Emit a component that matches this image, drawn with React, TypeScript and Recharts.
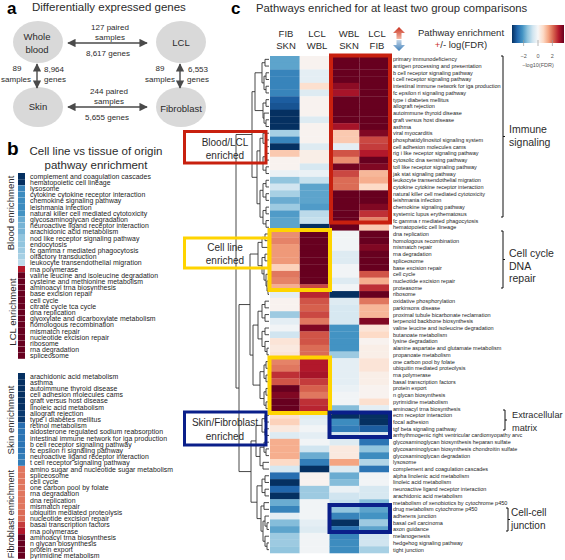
import React from 'react';
import { BarChart, Bar, Cell, XAxis, YAxis } from 'recharts';

const FONT = '"Liberation Sans", Arial, sans-serif';
const INK = '#2b2b2b';

const pathways = [
  'primary immunodeficiency', 'antigen processing and presentation', 'b cell receptor signaling pathway', 't cell receptor signaling pathway',
  'intestinal immune network for iga production', 'fc epsilon ri signaling pathway', 'type i diabetes mellitus', 'allograft rejection',
  'autoimmune thyroid disease', 'graft versus host disease', 'asthma', 'viral myocarditis',
  'phosphatidylinositol signaling system', 'cell adhesion molecules cams', 'rig i like receptor signaling pathway', 'cytosolic dna sensing pathway',
  'toll like receptor signaling pathway', 'jak stat signaling pathway', 'leukocyte transendothelial migration', 'cytokine cytokine receptor interaction',
  'natural killer cell mediated cytotoxicity', 'leishmania infection', 'chemokine signaling pathway', 'systemic lupus erythematosus',
  'fc gamma r mediated phagocytosis', 'hematopoietic cell lineage', 'dna replication', 'homologous recombination',
  'mismatch repair', 'rna degradation', 'spliceosome', 'base excision repair',
  'cell cycle', 'nucleotide excision repair', 'proteasome', 'ribosome',
  'oxidative phosphorylation', 'parkinsons disease', 'proximal tubule bicarbonate reclamation', 'terpenoid backbone biosynthesis',
  'valine leucine and isoleucine degradation', 'butanoate metabolism', 'lysine degradation', 'alanine aspartate and glutamate metabolism',
  'propanoate metabolism', 'one carbon pool by folate', 'ubiquitin mediated proteolysis', 'rna polymerase',
  'basal transcription factors', 'protein export', 'n glycan biosynthesis', 'pyrimidine metabolism',
  'aminoacyl trna biosynthesis', 'ecm receptor interaction', 'focal adhesion', 'tgf beta signaling pathway',
  'arrhythmogenic right ventricular cardiomyopathy arvc', 'glycosaminoglycan biosynthesis heparan sulfate', 'glycosaminoglycan biosynthesis chondroitin sulfate', 'glycosaminoglycan degradation',
  'lysosome', 'complement and coagulation cascades', 'alpha linolenic acid metabolism', 'linoleic acid metabolism',
  'neuroactive ligand receptor interaction', 'arachidonic acid metabolism', 'metabolism of xenobiotics by cytochrome p450', 'drug metabolism cytochrome p450',
  'adherens junction', 'basal cell carcinoma', 'axon guidance', 'melanogenesis',
  'hedgehog signaling pathway', 'tight junction',
];

const fibSkn = [
  -1.6, -1.6, -2, -2, -2, -2, -2.5, -2.6, -3, -3, -3, -1, -2, -3, 0.8, 0.1, 0.1, -0.2, -1.2, -0.6, -1, -1.5, -1.1, -1.7, -1.6, -1.6,
  1.4, 1.5, 1.3, 1.3, 1.3, 0.7, 1.6, 1.5, 1.1, -0.3,
  0.1, 0.1, -1.1, -0.3, -0.1, -0.6, 0.4, 0.3, 0.4, 1.5, 1.6, 2.2, 1.9, 3, 2.8, 3, 3,
  0.5, 0.7, 0.3, -0.4, 1.1, 1.1, 1.1, 0.6, -0.5, -2.3, -3, -2.4, -3, -1.5, -2, -0.3, -1.3, -1.6, -1.1, -1.1, -1.2,
];
const lclWbl = [
  0.1, 0.1, -0.3, -0.3, 0.5, -0.4, 0.1, 0.1, 0.1, -0.4, 0.1, 0.1, 0.1, -0.4, 0.2, 0.2, -0.5, -0.2, -0.7, -1.6, -1.6, -1.6, -1.7, -0.8, -0.7, -3,
  3, 3, 3, 3, 3, 3, 3, 3, 2, 2.3,
  1.9, 1.8, 2, 1.6, 2.8, 1.9, 1.9, 1.7, 1.7, 2.4, 2.4, 2.5, 2.1, 1.8, 1.6, 2.2, 2.3,
  -0.4, -0.3, -0.1, -0.3, -0.1, -0.6, -1.5, -2.1, -3, 0.1, 0.1, -1.1, -1.1, -0.1, -0.1, -0.1, -0.3, -0.4, -0.1, -0.1, -0.1,
];
const wblSkn = [
  3, 3, 3, 3, 2.7, 2.5, 3, 3, 3, 3, 2.5, 0.8, 0.8, -0.3, 1.9, 1.4, 2.9, 2, 1.7, 1.7, 3, 3, 3, 3, 3, 3,
  -0.1, -0.1, -0.1, -0.4, -0.4, -0.1, -0.1, -0.4, -0.1, -3,
  -0.4, -0.5, -0.5, -0.5, -1.8, -1.8, -1.8, -1.8, -1.1, -0.3, -0.3, -0.3, -0.3, -0.2, -0.1, -0.1, -1.3,
  -3, -1.9, -2.1, -0.5, -0.4, 0.3, 0.3, 1.2, -0.4, -1.5, -1.3, -0.2, -0.6, -0.7, -1.2, -2, -3, -2.2, -2, -1.9, -1.9,
];
const lclFib = [
  3, 3, 3, 3, 3, 3, 3, 3, 3, 3, 3, 2.8, 2, 2.1, 2.4, 3, 2.8, 1, 1.1, 0.6, 3, 3, 2.8, 2.2, 1.5, 0.8,
  3, 3, 2.8, 3, 3, 3, 1.9, 1.1, 2.2, 3,
  1.6, 1, 1, 2.8, 0.4, 0.6, 0.1, 0.2, 0.2, 0.4, 0.4, 0.2, 0.2, 0.1, 0.1, 0.5, -0.3,
  -3, -3, -2.5, -0.4, -2.2, -1.2, -1.9, -0.9, -2.2, -0.1, -0.1, -0.5, -0.5, -1.3, -1.6, -1.8, -1.1, -1.6, -0.6, -0.6, -1,
];

const bloodLclLabels = [
  'complement and coagulation cascades', 'hematopoietic cell lineage', 'lysosome', 'cytokine cytokine receptor interaction', 'chemokine signaling pathway',
  'leishmania infection', 'natural killer cell mediated cytotoxicity', 'glycosaminoglycan degradation', 'neuroactive ligand receptor interaction', 'arachidonic acid metabolism',
  'nod like receptor signaling pathway', 'endocytosis', 'fc gamma r mediated phagocytosis', 'olfactory transduction', 'leukocyte transendothelial migration',
  'rna polymerase', 'valine leucine and isoleucine degradation', 'cysteine and methionine metabolism', 'aminoacyl trna biosynthesis', 'base excision repair',
  'cell cycle', 'citrate cycle tca cycle', 'dna replication', 'glyoxylate and dicarboxylate metabolism', 'homologous recombination',
  'mismatch repair', 'nucleotide excision repair', 'ribosome', 'rna degradation', 'spliceosome',
];
const bloodLclValues = [-3, -3, -2, -1.9, -1.9, -1.9, -1.8, -1.5, -1.4, -1.4, -1.2, -1.2, -1.1, -1, -0.8, 2.4, 3, 3, 3, 3, 3, 3, 3, 3, 3, 3, 3, 3, 3, 3];

const skinFibLabels = [
  'arachidonic acid metabolism', 'asthma', 'autoimmune thyroid disease', 'cell adhesion molecules cams', 'graft versus host disease',
  'linoleic acid metabolism', 'allograft rejection', 'type i diabetes mellitus', 'retinol metabolism', 'aldosterone regulated sodium reabsorption',
  'intestinal immune network for iga production', 'b cell receptor signaling pathway', 'fc epsilon ri signaling pathway', 'neuroactive ligand receptor interaction', 't cell receptor signaling pathway',
  'amino sugar and nucleotide sugar metabolism', 'spliceosome', 'cell cycle', 'one carbon pool by folate', 'rna degradation',
  'dna replication', 'mismatch repair', 'ubiquitin mediated proteolysis', 'nucleotide excision repair', 'basal transcription factors',
  'rna polymerase', 'aminoacyl trna biosynthesis', 'n glycan biosynthesis', 'protein export', 'pyrimidine metabolism',
];
const skinFibValues = [-3, -3, -3, -3, -3, -3, -2.9, -2.9, -2.3, -2.2, -2.2, -2.2, -2.2, -2.1, -2.1, 1.6, 1.6, 1.6, 1.6, 1.6, 1.6, 1.6, 1.7, 1.7, 2.1, 2.4, 3, 3, 3, 3];

const columnHeads = [['FIB', 'SKN'], ['LCL', 'WBL'], ['WBL', 'SKN'], ['LCL', 'FIB']];
const legendTicks = [-2, 0, 2];

const ramp = ['#053061', '#2166ac', '#4393c3', '#92c5de', '#d1e5f0', '#f7f7f7', '#fddbc7', '#f4a582', '#d6604d', '#b2182b', '#67001f'];

const hex = (c: string) => [1, 3, 5].map((i) => parseInt(c.slice(i, i + 2), 16));

// value in -3..3 onto the red/blue ramp
const colorOf = (v: number) => {
  const t = ((Math.max(-3, Math.min(3, v)) + 3) / 6) * (ramp.length - 1);
  const i = Math.min(Math.floor(t), ramp.length - 2);
  const a = hex(ramp[i]);
  const b = hex(ramp[i + 1]);
  const f = t - i;
  return `rgb(${a.map((x, k) => Math.round(x + (b[k] - x) * f)).join(',')})`;
};

const heatColumns = [fibSkn, lclWbl, wblSkn, lclFib];
const heatRows = pathways.map((pathway) => ({ pathway, c0: 1, c1: 1, c2: 1, c3: 1 }));
const stripRows = (labels: string[]) => labels.map((pathway) => ({ pathway, unit: 1 }));

const HEAT_TOP = 56;
const HEAT_H = 497;
const ROW_H = HEAT_H / pathways.length;

// plain text tick, the default one wraps long names
const PathwayTick = ({ x, y, payload, size, spacing }: any) => (
  <text x={x} y={y} dy={size * 0.36} fontSize={size} letterSpacing={spacing} fill="#222" fontFamily={FONT}>
    {payload.value}
  </text>
);

type Node = number | { x: number; l: Node; r: Node };
const n = (x: number, l: Node, r: Node): Node => ({ x, l, r });

const dendrogram = n(236,
  n(252,
    n(255,
      n(262, n(265, 0, 1), n(264, n(266, 2, 3), n(266, 4, 5))),
      n(263, n(266, 6, 7), n(264, 8, n(266, 9, 10)))),
    n(257,
      n(260, n(263, 11, n(266, 12, 13)), n(263, n(266, 14, 15), n(266, 16, 17))),
      n(260, n(263, n(266, 18, 19), n(266, 20, 21)), n(263, n(266, 22, 23), n(266, 24, 25))))),
  n(239,
    n(250,
      n(258,
        n(262, n(265, 26, 27), 28),
        n(262, n(265, 29, 30), n(264, 31, n(266, 32, n(267, 33, n(268, 34, 35)))))),
      n(253,
        n(258,
          n(262, n(265, 36, 37), n(265, 38, 39)),
          n(262, n(265, 40, 41), n(265, 42, n(267, 43, 44)))),
        n(260,
          n(264, n(266, 45, 46), n(266, 47, 48)),
          n(264, n(266, 49, 50), n(266, 51, 52))))),
    n(251,
      n(256,
        n(262, n(265, 53, 54), n(265, 55, 56)),
        n(260, n(264, 57, n(266, 58, 59)), n(263, 60, 61))),
      n(257,
        n(262, n(265, 62, 63), n(265, 64, 65)),
        n(261, n(264, 66, 67), n(263, n(265, 68, n(267, 69, 70)), n(265, 71, n(267, 72, 73))))))));

const Dendrogram = () => {
  const lines: React.ReactNode[] = [];
  const walk = (node: Node): [number, number] => {
    if (typeof node === 'number') return [269, HEAT_TOP + (node + 0.5) * ROW_H];
    const [lx, ly] = walk(node.l);
    const [rx, ry] = walk(node.r);
    lines.push(
      <path key={lines.length} d={`M${lx} ${ly}H${node.x}V${ry}H${rx}`} fill="none" stroke="#333" strokeWidth={0.9} />
    );
    return [node.x, (ly + ry) / 2];
  };
  walk(dendrogram);
  return <g>{lines}</g>;
};

const DoubleArrow = ({ x1, y1, x2, y2 }: { x1: number; y1: number; x2: number; y2: number }) => (
  <line x1={x1} y1={y1} x2={x2} y2={y2} stroke="#4a4a4a" strokeWidth={1.4} markerStart="url(#head)" markerEnd="url(#head)" />
);

const Bracket = ({ x, y1, y2 }: { x: number; y1: number; y2: number }) => (
  <path d={`M${x - 2} ${y1}H${x}V${y2}H${x - 2}M${x} ${(y1 + y2) / 2}h2`} fill="none" stroke="#111" strokeWidth={1} />
);

const T = ({ x, y, s = 8, a = 'middle', fill = INK, children, ...rest }: any) => (
  <text x={x} y={y} fontSize={s} textAnchor={a} fill={fill} fontFamily={FONT} {...rest}>
    {children}
  </text>
);

const Box = ({ x1, y1, x2, y2, color, w }: { x1: number; y1: number; x2: number; y2: number; color: string; w: number }) => (
  <rect x={x1} y={y1} width={x2 - x1} height={y2 - y1} fill="none" stroke={color} strokeWidth={w} />
);

const Strip = ({ top, labels, values }: { top: number; labels: string[]; values: number[] }) => (
  <div style={{ position: 'absolute', left: 0, top }}>
    <BarChart
      width={190}
      height={186}
      layout="vertical"
      data={stripRows(labels)}
      barCategoryGap={0}
      margin={{ top: 0, right: 0, bottom: 0, left: 18 }}
    >
      <XAxis type="number" hide domain={[0, 1]} />
      <YAxis
        type="category"
        dataKey="pathway"
        orientation="right"
        width={165}
        interval={0}
        axisLine={false}
        tickLine={false}
        tickSize={0}
        tickMargin={5}
        tick={<PathwayTick size={6.9} spacing={0.05} />}
      />
      <Bar dataKey="unit" isAnimationActive={false}>
        {values.map((v, i) => (
          <Cell key={i} fill={colorOf(v)} />
        ))}
      </Bar>
    </BarChart>
  </div>
);

export default function App() {
  return (
    <div style={{ position: 'absolute', left: 0, top: 0, width: 565, height: 560, background: '#fff', overflow: 'hidden' }}>
      <Strip top={173} labels={bloodLclLabels} values={bloodLclValues} />
      <Strip top={373} labels={skinFibLabels} values={skinFibValues} />

      <div style={{ position: 'absolute', left: 0, top: 0 }}>
        <BarChart
          width={565}
          height={560}
          layout="vertical"
          data={heatRows}
          barCategoryGap={0}
          margin={{ top: HEAT_TOP, right: 0, bottom: 560 - HEAT_TOP - HEAT_H, left: 270 }}
        >
          <XAxis type="number" hide domain={[0, 4]} />
          <YAxis
            type="category"
            dataKey="pathway"
            orientation="right"
            width={176}
            interval={0}
            axisLine={false}
            tickLine={false}
            tickSize={0}
            tickMargin={4}
            tick={<PathwayTick size={5.5} spacing={0} />}
          />
          {heatColumns.map((col, c) => (
            <Bar key={c} dataKey={`c${c}`} stackId="heat" isAnimationActive={false}>
              {col.map((v, i) => (
                <Cell key={i} fill={colorOf(v)} />
              ))}
            </Bar>
          ))}
        </BarChart>
      </div>

      <svg width={565} height={560} style={{ position: 'absolute', left: 0, top: 0, pointerEvents: 'none' }}>
        <defs>
          <marker id="head" viewBox="0 0 10 10" refX="9" refY="5" markerWidth="6" markerHeight="6" orient="auto-start-reverse">
            <path d="M0 0L10 5L0 10Z" fill="#4a4a4a" />
          </marker>
          <linearGradient id="bar">
            {ramp.map((c, i) => (
              <stop key={c} offset={i / (ramp.length - 1)} stopColor={c} />
            ))}
          </linearGradient>
          <linearGradient id="up" x1="0" y1="0" x2="0" y2="1">
            <stop offset="0" stopColor="#c9301f" />
            <stop offset="1" stopColor="#f4b8a4" />
          </linearGradient>
          <linearGradient id="down" x1="0" y1="0" x2="0" y2="1">
            <stop offset="0" stopColor="#c3d6e8" />
            <stop offset="1" stopColor="#3f7fb9" />
          </linearGradient>
        </defs>

        {/* panel a */}
        <T x={7} y={14} s={17} a="start" fontWeight="bold" fill="#000">a</T>
        <T x={32} y={11} s={11.5} a="start">Differentially expressed genes</T>
        {[[38, 42, 21], [181, 42, 21], [38, 107, 20], [181, 107, 20]].map(([cx, cy, ry]) => (
          <ellipse key={`${cx}-${cy}`} cx={cx} cy={cy} rx={25} ry={ry} fill="#d9d9d9" />
        ))}
        <T x={37} y={40} s={9.5}>Whole</T>
        <T x={37} y={53} s={9.5}>blood</T>
        <T x={181} y={46} s={9.5}>LCL</T>
        <T x={38} y={110} s={9.5}>Skin</T>
        <T x={181} y={112} s={9.5}>Fibroblast</T>
        <DoubleArrow x1={68} y1={43} x2={147} y2={43} />
        <DoubleArrow x1={68} y1={107} x2={147} y2={107} />
        <DoubleArrow x1={37} y1={64} x2={37} y2={88} />
        <DoubleArrow x1={180} y1={64} x2={180} y2={88} />
        <T x={110} y={30}>127 paired</T>
        <T x={110} y={40}>samples</T>
        <T x={108} y={56}>8,617  genes</T>
        <T x={109} y={94}>244 paired</T>
        <T x={109} y={104}>samples</T>
        <T x={107} y={120}>5,655  genes</T>
        <T x={17} y={71}>89</T>
        <T x={16} y={82}>samples</T>
        <T x={54} y={72}>8,964</T>
        <T x={55} y={82}>genes</T>
        <T x={160} y={71}>89</T>
        <T x={160} y={82}>samples</T>
        <T x={198} y={72}>6,553</T>
        <T x={198} y={82}>genes</T>

        {/* panel b */}
        <T x={7} y={155} s={19} a="start" fontWeight="bold" fill="#000">b</T>
        <T x={96} y={155} s={11.5}>Cell line vs tissue of origin</T>
        <T x={96} y={169} s={11.5}>pathway enrichment</T>
        <T x={0} y={0} s={9.6} transform="translate(14 213) rotate(-90)">Blood enrichment</T>
        <T x={0} y={0} s={9.6} transform="translate(16 312) rotate(-90)">LCL enrichment</T>
        <T x={0} y={0} s={9.6} transform="translate(14 420) rotate(-90)">Skin enrichment</T>
        <T x={0} y={0} s={9.2} transform="translate(14 514) rotate(-90)">Fibroblast enrichment</T>

        {/* panel c header */}
        <T x={231} y={14} s={17} a="start" fontWeight="bold" fill="#000">c</T>
        <T x={256} y={12} s={11.3} a="start">Pathways enriched for at least two group comparisons</T>
        {columnHeads.map(([a, b], i) => (
          <g key={i}>
            <T x={[286, 317, 349, 377][i]} y={37} s={9.5}>{a}</T>
            <T x={[286, 317, 349, 377][i]} y={49} s={9.5}>{b}</T>
          </g>
        ))}
        <path d="M399 27l-6 6h3.5v6h5v-6h3.5z" fill="url(#up)" />
        <path d="M399 51l-6-6h3.5v-5h5v5h3.5z" fill="url(#down)" />
        <T x={461} y={36} s={9.5}>Pathway enrichment</T>
        <text x={461} y={48} fontSize={9.5} textAnchor="middle" fontFamily={FONT} fill={INK}>
          <tspan fill="#c9301f">+</tspan>/- log(FDR)
        </text>
        <rect x={512} y={25} width={52} height={18} fill="url(#bar)" />
        {legendTicks.map((t) => (
          <g key={t}>
            <line x1={538 + t * 7.2} x2={538 + t * 7.2} y1={40} y2={46} stroke="#999" strokeWidth={0.7} />
            <T x={538 + t * 7.2} y={58} s={5.5} fill="#555">{t === -2 ? '−2' : t}</T>
          </g>
        ))}
        <T x={538} y={67} s={5.5} fill="#555">−log10(FDR)</T>

        <Dendrogram />

        <Box x1={331} y1={55.5} x2={390} y2={222.5} color="#c8200f" w={4} />
        <Box x1={269.5} y1={230} x2={330} y2={290} color="#ffd400" w={4} />
        <Box x1={269.5} y1={357.5} x2={330} y2={413} color="#ffd400" w={4} />
        <Box x1={329.5} y1={412.5} x2={390} y2={437} color="#0a1f8a" w={4} />
        <Box x1={329.5} y1={505} x2={390} y2={532} color="#0a1f8a" w={4} />

        <Box x1={184.5} y1={131.5} x2={266} y2={163} color="#c8200f" w={3} />
        <T x={225} y={146} s={10}>Blood/LCL</T>
        <T x={225} y={159} s={10}>enriched</T>
        <Box x1={184.5} y1={238} x2={269} y2={268} color="#ffd400" w={3} />
        <T x={225} y={251} s={10}>Cell line</T>
        <T x={225} y={264} s={10}>enriched</T>
        <Box x1={184.5} y1={412} x2={266} y2={445} color="#0a1f8a" w={3} />
        <T x={225} y={426} s={10}>Skin/Fibroblast</T>
        <T x={225} y={440} s={10}>enriched</T>

        <Bracket x={503} y1={56} y2={217} />
        <T x={509} y={133} s={10.5} a="start">Immune</T>
        <T x={509} y={146} s={10.5} a="start">signaling</T>
        <Bracket x={503} y1={231} y2={288} />
        <T x={509} y={257} s={10.5} a="start">Cell cycle</T>
        <T x={509} y={270} s={10.5} a="start">DNA</T>
        <T x={509} y={282} s={10.5} a="start">repair</T>
        <Bracket x={505} y1={410} y2={430} />
        <T x={512} y={418} s={9.2} a="start">Extracellular</T>
        <T x={512} y={431} s={9.2} a="start">matrix</T>
        <Bracket x={508} y1={508} y2={531} />
        <T x={511} y={516} s={10} a="start">Cell-cell</T>
        <T x={511} y={529} s={10} a="start">junction</T>
      </svg>
    </div>
  );
}
